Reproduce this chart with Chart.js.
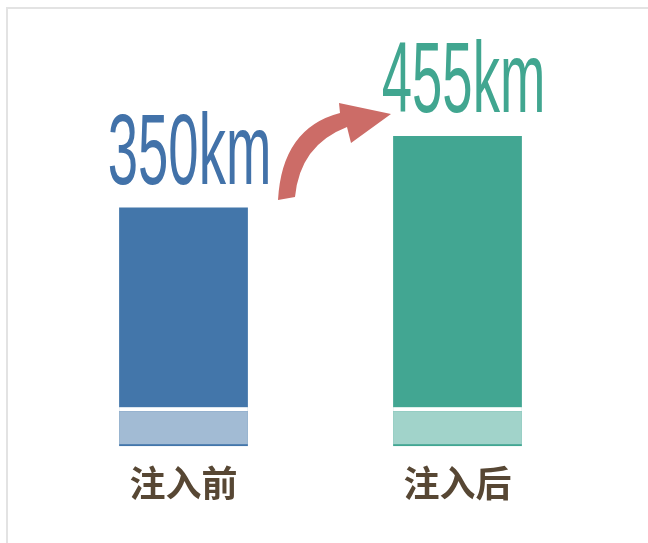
<!DOCTYPE html>
<html><head><meta charset="utf-8">
<script src="https://cdn.jsdelivr.net/npm/chart.js@4.4.0/dist/chart.umd.min.js"></script>
<style>
html,body{margin:0;padding:0;background:#fff;}
#wrap{position:relative;width:648px;height:543px;}
#frame{position:absolute;left:6px;top:7px;right:0;bottom:0;border-top:2px solid #e3e3e3;border-left:2px solid #e3e3e3;pointer-events:none;}
canvas{position:absolute;left:0;top:0;}
</style></head>
<body>
<div id="wrap"><canvas id="c" width="648" height="543"></canvas><div id="frame"></div></div>
<script>
const categories = ['注入前', '注入后'];
const distances = [350, 455];
const unit = 'km';
const barColors = ['#4376aa', '#42a692'];
const lightColors = ['#a2bbd4', '#a1d3ca'];
const labelColors = ['#4272a9', '#41a690'];

const decoPlugin = {
  id: 'deco',
  afterDatasetsDraw(chart) {
    const ctx = chart.ctx;
    const meta = chart.getDatasetMeta(0);
    meta.data.forEach((el, i) => {
      const left = el.x - el.width / 2;
      const base = el.base;
      ctx.save();
      ctx.fillStyle = '#ffffff';
      ctx.fillRect(left, base - 39, el.width, 4);
      ctx.fillStyle = lightColors[i];
      ctx.fillRect(left, base - 35, el.width, 33);
      // value label
      ctx.fillStyle = labelColors[i];
      ctx.font = '100px "Liberation Sans", Arial, sans-serif';
      ctx.textBaseline = 'alphabetic';
      ctx.textAlign = 'center';
      const sx = 0.545;
      ctx.translate(el.x + 6, el.y - 24);
      ctx.scale(sx, 1);
      ctx.fillText(distances[i] + unit, 0, 0);
      ctx.restore();
    });
    // curved arrow between the bars
    const a = meta.data[0], b = meta.data[1];
    const ox = (a.x + b.x) / 2, oy = a.y;
    const P = (dx, dy) => [ox + dx, oy + dy];
    ctx.save();
    ctx.fillStyle = '#cc6c67';
    ctx.beginPath();
    let p = P(-42.5, -7.5); ctx.moveTo(p[0], p[1]);
    let c1 = P(-38.5, -79.5), e1 = P(19.5, -94.5);
    ctx.quadraticCurveTo(c1[0], c1[1], e1[0], e1[1]);
    p = P(18.5, -104.5); ctx.lineTo(p[0], p[1]);
    p = P(70.5, -93.5); ctx.lineTo(p[0], p[1]);
    p = P(30.5, -64.5); ctx.lineTo(p[0], p[1]);
    p = P(26.5, -80.5); ctx.lineTo(p[0], p[1]);
    c1 = P(-20.5, -62.5); e1 = P(-25.5, -10.5);
    ctx.quadraticCurveTo(c1[0], c1[1], e1[0], e1[1]);
    ctx.closePath();
    ctx.fill();
    ctx.restore();
  }
};

new Chart(document.getElementById('c'), {
  type: 'bar',
  data: {
    labels: categories,
    datasets: [{
      data: distances,
      backgroundColor: barColors,
      borderWidth: 0,
      barPercentage: 0.47,
      categoryPercentage: 1.0
    }]
  },
  options: {
    responsive: false,
    animation: false,
    devicePixelRatio: 1,
    layout: { padding: { left: 46.5, right: 53.5, top: 37.2, bottom: 22 } },
    plugins: { legend: { display: false }, tooltip: { enabled: false } },
    scales: {
      y: { display: false, min: 0, max: 600 },
      x: {
        grid: { display: false, drawTicks: false },
        border: { display: false },
        ticks: {
          padding: 15.8,
          color: '#574734',
          font: { size: 36, weight: 'bold', family: '"Noto Sans CJK SC", sans-serif', lineHeight: 1.2 }
        }
      }
    }
  },
  plugins: [decoPlugin]
});
</script>
</body></html>
